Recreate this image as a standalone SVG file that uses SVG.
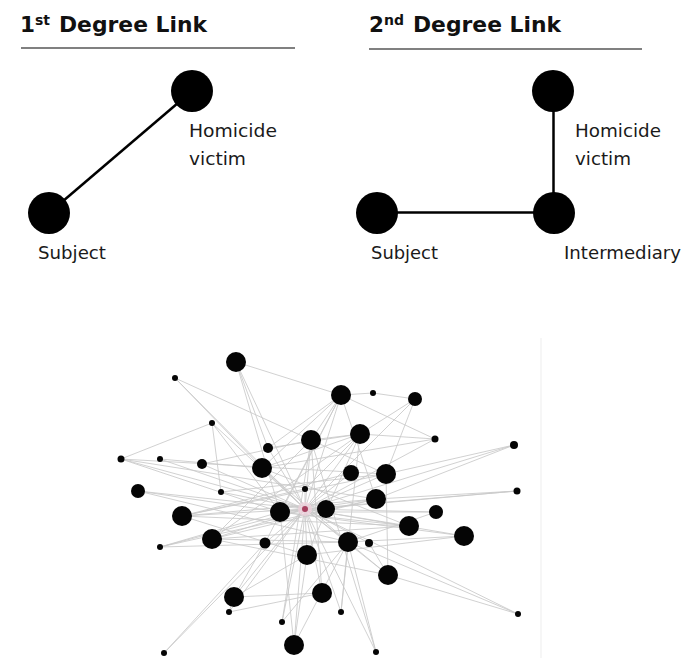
<svg xmlns="http://www.w3.org/2000/svg" width="692" height="658" viewBox="0 0 692 658">
<style>
.title{font-family:"DejaVu Sans","Liberation Sans",sans-serif;font-weight:bold;fill:#111;}
.lbl{font-family:"DejaVu Sans","Liberation Sans",sans-serif;font-size:18px;fill:#1a1a1a;}
.rule{stroke:#808080;stroke-width:2;}
.big{fill:#000;}
.link{stroke:#000;stroke-width:2.5;fill:none;}
.e{stroke:#c9c9c9;stroke-width:1;opacity:0.85;fill:none;}
.n{fill:#050505;}
</style>
<rect width="692" height="658" fill="#fff"/>
<g id="panel1-title">
<text class="title" x="20" y="32" font-size="21.5">1</text>
<text class="title" x="35" y="25" font-size="14">st</text>
<text class="title" x="59" y="32" font-size="21.5" textLength="148" lengthAdjust="spacingAndGlyphs">Degree Link</text>
<line class="rule" x1="21" y1="48" x2="295" y2="48"/>
</g>
<g id="panel2-title">
<text class="title" x="369" y="32" font-size="21.5">2</text>
<text class="title" x="384" y="25" font-size="14">nd</text>
<text class="title" x="413" y="32" font-size="21.5" textLength="148" lengthAdjust="spacingAndGlyphs">Degree Link</text>
<line class="rule" x1="369" y1="49" x2="642" y2="49"/>
</g>
<g id="connectors-top">
<line class="link" x1="49" y1="213" x2="192" y2="91"/>
<line class="link" x1="377" y1="212.5" x2="554" y2="212.5"/>
<line class="link" x1="553.5" y1="91" x2="553.5" y2="213"/>
</g>
<g id="p1-victim"><circle class="big" cx="192" cy="91" r="21"/>
<text class="lbl" x="189" y="137" textLength="88" lengthAdjust="spacingAndGlyphs">Homicide</text>
<text class="lbl" x="189" y="165" textLength="57" lengthAdjust="spacingAndGlyphs">victim</text></g>
<g id="p1-subject"><circle class="big" cx="49" cy="213" r="21"/>
<text class="lbl" x="38" y="259" textLength="68" lengthAdjust="spacingAndGlyphs">Subject</text></g>
<g id="p2-victim"><circle class="big" cx="553" cy="91" r="21"/>
<text class="lbl" x="575" y="137" textLength="86" lengthAdjust="spacingAndGlyphs">Homicide</text>
<text class="lbl" x="575" y="165" textLength="56" lengthAdjust="spacingAndGlyphs">victim</text></g>
<g id="p2-subject"><circle class="big" cx="377" cy="213" r="21"/>
<text class="lbl" x="371" y="259" textLength="67" lengthAdjust="spacingAndGlyphs">Subject</text></g>
<g id="p2-intermediary"><circle class="big" cx="554" cy="213" r="21"/>
<text class="lbl" x="564" y="259" textLength="117" lengthAdjust="spacingAndGlyphs">Intermediary</text></g>
<line x1="541" y1="338" x2="541" y2="658" stroke="#f6f6f6" stroke-width="2"/>
<g id="network-edges">
<path class="e" d="M236,362L305,509M236,362L268,448M236,362L280,512M175,378L305,509M175,378L262,468M212,423L121,459M212,423L221,492M212,423L305,509M212,423L280,512M121,459L305,509M121,459L280,512M121,459L376,499M160,459L305,509M160,459L262,468M138,491L305,509M138,491L280,512M138,491L348,542M202,464L305,509M202,464L311,440M268,448L341,395M268,448L305,509M268,448L360,434M311,440L341,395M311,440L360,434M311,440L305,509M311,440L386,474M311,440L212,539M341,395L373,393L415,399M341,395L262,468M341,395L305,509M341,395L280,512M341,395L435,439M341,395L376,499M360,434L435,439M360,434L305,509M360,434L262,468M360,434L307,555M360,434L415,399M415,399L305,509M415,399L386,474M435,439L305,509M435,439L262,468M514,445L386,474M514,445L376,499M514,445L305,509M517,491L376,499M517,491L305,509M517,491L280,512M386,474L305,509M386,474L182,516M386,474L388,575M351,473L305,509M351,473L182,516M376,499L305,509M376,499L212,539M262,468L305,509M262,468L348,542M262,468L409,526M182,516L305,509M182,516L409,526M182,516L376,499M182,516L305,489M280,512L305,509M280,512L409,526M326,509L305,509M436,512L305,509M436,512L280,512M436,512L348,542M409,526L305,509M409,526L212,539M464,536L305,509M464,536L280,512M464,536L307,555M464,536L348,542M212,539L305,509M212,539L348,542M212,539L360,434M160,547L305,509M160,547L348,542M160,547L376,499M265,543L305,509M265,543L164,653M265,543L234,597M265,543L341,395M307,555L305,509M307,555L294,645M307,555L182,516M348,542L305,509M348,542L388,575M348,542L341,612M369,543L305,509M369,543L388,575M388,575L305,509M388,575L518,614M388,575L212,539M518,614L348,542M518,614L305,509M322,593L305,509M322,593L234,597M322,593L311,440M234,597L305,509M234,597L307,555M234,597L229,612M229,612L305,509M341,612L305,509M341,612L360,434M282,622L305,509M282,622L311,440M294,645L305,509M294,645L280,512M294,645L348,542M376,652L348,542M376,652L305,509M376,652L311,440M221,492L305,509M221,492L386,474M305,489L360,434M305,489L305,509M175,378L311,440M236,362L341,395M121,459L386,474M160,547L280,512M229,612L322,593M282,622L348,542M164,653L305,509"/>
</g>
<g id="hub"><circle cx="305" cy="509" r="7" fill="#f2d3de" opacity="0.7"/><circle cx="305" cy="509" r="3" fill="#a8405f"/></g>
<g id="n1"><circle class="n" cx="236" cy="362" r="10"/></g>
<g id="n2"><circle class="n" cx="341" cy="395" r="10"/></g>
<g id="n3"><circle class="n" cx="311" cy="440" r="10"/></g>
<g id="n4"><circle class="n" cx="360" cy="434" r="10"/></g>
<g id="n5"><circle class="n" cx="262" cy="468" r="10"/></g>
<g id="n6"><circle class="n" cx="386" cy="474" r="10"/></g>
<g id="n7"><circle class="n" cx="351" cy="473" r="8"/></g>
<g id="n8"><circle class="n" cx="182" cy="516" r="10"/></g>
<g id="n9"><circle class="n" cx="280" cy="512" r="10"/></g>
<g id="n10"><circle class="n" cx="326" cy="509" r="9"/></g>
<g id="n11"><circle class="n" cx="376" cy="499" r="10"/></g>
<g id="n12"><circle class="n" cx="212" cy="539" r="10"/></g>
<g id="n13"><circle class="n" cx="307" cy="555" r="10"/></g>
<g id="n14"><circle class="n" cx="348" cy="542" r="10"/></g>
<g id="n15"><circle class="n" cx="409" cy="526" r="10"/></g>
<g id="n16"><circle class="n" cx="464" cy="536" r="10"/></g>
<g id="n17"><circle class="n" cx="388" cy="575" r="10"/></g>
<g id="n18"><circle class="n" cx="322" cy="593" r="10"/></g>
<g id="n19"><circle class="n" cx="234" cy="597" r="10"/></g>
<g id="n20"><circle class="n" cx="294" cy="645" r="10"/></g>
<g id="n21"><circle class="n" cx="138" cy="491" r="7"/></g>
<g id="n22"><circle class="n" cx="202" cy="464" r="5"/></g>
<g id="n23"><circle class="n" cx="268" cy="448" r="5"/></g>
<g id="n24"><circle class="n" cx="415" cy="399" r="7"/></g>
<g id="n25"><circle class="n" cx="436" cy="512" r="7"/></g>
<g id="n26"><circle class="n" cx="265" cy="543" r="5.5"/></g>
<g id="s1"><circle class="n" cx="175" cy="378" r="3"/></g>
<g id="s2"><circle class="n" cx="212" cy="423" r="3"/></g>
<g id="s3"><circle class="n" cx="121" cy="459" r="3.5"/></g>
<g id="s4"><circle class="n" cx="160" cy="459" r="3"/></g>
<g id="s5"><circle class="n" cx="221" cy="492" r="3"/></g>
<g id="s6"><circle class="n" cx="373" cy="393" r="3"/></g>
<g id="s7"><circle class="n" cx="435" cy="439" r="3.5"/></g>
<g id="s8"><circle class="n" cx="514" cy="445" r="4"/></g>
<g id="s9"><circle class="n" cx="517" cy="491" r="3.5"/></g>
<g id="s10"><circle class="n" cx="305" cy="489" r="3"/></g>
<g id="s11"><circle class="n" cx="369" cy="543" r="4"/></g>
<g id="s12"><circle class="n" cx="160" cy="547" r="3"/></g>
<g id="s13"><circle class="n" cx="341" cy="612" r="3"/></g>
<g id="s14"><circle class="n" cx="229" cy="612" r="3"/></g>
<g id="s15"><circle class="n" cx="282" cy="622" r="3"/></g>
<g id="s16"><circle class="n" cx="518" cy="614" r="3"/></g>
<g id="s17"><circle class="n" cx="376" cy="652" r="3"/></g>
<g id="s18"><circle class="n" cx="164" cy="653" r="3"/></g>
</svg>
